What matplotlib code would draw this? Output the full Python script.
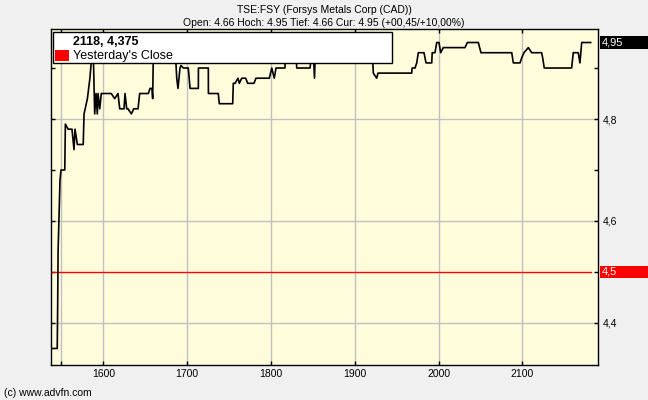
import matplotlib.pyplot as plt
import matplotlib.patches as patches
import matplotlib.transforms as transforms
import numpy as np

TITLE = 'TSE:FSY (Forsys Metals Corp (CAD))'
SUBTITLE = 'Open: 4.66 Hoch: 4.95 Tief: 4.66 Cur: 4.95 (+00,45/+10,00%)'
CURSOR_TEXT = '2118, 4,375'
LEGEND_LABEL = "Yesterday's Close"
COPYRIGHT = '(c) www.advfn.com'

PREV_CLOSE = 4.5
LAST_PRICE = 4.95

# temps / cours
times = [1537, 1545, 1545.5, 1546, 1547.5, 1548.3, 1549.5, 1554, 1554.7, 1558,
         1562.6, 1565, 1566.2, 1569, 1576, 1577, 1581, 1584, 1586, 1588,
         1589.7, 1591.3, 1592.8, 1593.7, 1595.7, 1597.6, 1609.5, 1613.6, 1617.5, 1619.6,
         1624.7, 1625.9, 1627.9, 1629.5, 1633.4, 1636.3, 1641.4, 1643.4, 1653.7, 1655.7,
         1658, 1658.9, 1659.7, 1686, 1687.6, 1689.1, 1691.5, 1692.7, 1695.5, 1701.4,
         1703.5, 1713.4, 1713.5, 1725.3, 1725.4, 1737.2, 1738.4, 1754.4, 1755.1, 1757.2,
         1760.7, 1762.3, 1765.2, 1769.9, 1772.3, 1779.8, 1782.2, 1798.1, 1801, 1804,
         1806.1, 1816.8, 1817, 1830, 1830.8, 1846.7, 1848.7, 1850.6, 1852, 1853,
         1921, 1922.2, 1926.2, 1927.8, 1968, 1968.5, 1972, 1974, 1975.9, 1982.7,
         1985.1, 1991.9, 1992.5, 1995.8, 1997.9, 2000.6, 2002.6, 2005.7, 2031.6, 2034.4,
         2047.5, 2050.7, 2087.4, 2089.3, 2097.3, 2099.3, 2102, 2107.2, 2111.2, 2123.1,
         2124.3, 2126.2, 2158.9, 2160.8, 2166.8, 2168.8, 2170.9, 2181.6]
prices = [4.35, 4.35, 4.43, 4.54, 4.63, 4.68, 4.70, 4.70, 4.79, 4.78,
          4.78, 4.74, 4.78, 4.75, 4.75, 4.81, 4.84, 4.88, 4.92, 4.93,
          4.81, 4.85, 4.81, 4.85, 4.82, 4.85, 4.85, 4.84, 4.85, 4.82,
          4.82, 4.85, 4.82, 4.82, 4.81, 4.82, 4.82, 4.85, 4.85, 4.86,
          4.86, 4.84, 4.93, 4.93, 4.88, 4.86, 4.90, 4.905, 4.90, 4.90,
          4.86, 4.86, 4.90, 4.90, 4.85, 4.85, 4.83, 4.83, 4.87, 4.87,
          4.88, 4.87, 4.88, 4.88, 4.87, 4.87, 4.88, 4.88, 4.90, 4.88,
          4.90, 4.90, 4.93, 4.93, 4.90, 4.90, 4.93, 4.93, 4.88, 4.93,
          4.93, 4.89, 4.88, 4.89, 4.89, 4.90, 4.90, 4.91, 4.93, 4.93,
          4.91, 4.91, 4.93, 4.93, 4.95, 4.95, 4.93, 4.94, 4.94, 4.95,
          4.95, 4.93, 4.93, 4.91, 4.91, 4.92, 4.93, 4.94, 4.93, 4.93,
          4.92, 4.90, 4.90, 4.93, 4.93, 4.91, 4.95, 4.95]

x_ticks = [1600, 1700, 1800, 1900, 2000, 2100]
x_minor = [1550]
y_ticks = [4.4, 4.6, 4.8]
y_minor = [4.5, 4.7, 4.9]

FONT = 'Liberation Sans'
BG_FIG = '#f0f0f0'
BG_AX = '#fffcdc'
GRID = '#c0c0c0'


def fmt_comma(v):
    return ('%g' % v).replace('.', ',')


def price_box(fig, ax, value, facecolor):
    # boite a droite de l'axe, jusqu'au bord de la figure
    trans = transforms.blended_transform_factory(fig.transFigure, ax.transData)
    h = 0.025
    rect = patches.Rectangle((600/648, value - h/2), 1 - 600/648, h, transform=trans,
                             facecolor=facecolor, edgecolor='none', clip_on=False, zorder=5)
    fig.patches.append(rect)
    fig.text(602/648, 0, fmt_comma(value), transform=trans, color='white',
             fontsize=8, family=FONT, va='center', ha='left', zorder=6)
    # recaler le y du texte sur la valeur
    fig.texts[-1].set_y(value)


def plot():
    plt.rcParams['font.family'] = FONT
    fig = plt.figure(figsize=(6.48, 4.00), dpi=100, facecolor=BG_FIG)
    ax = fig.add_axes([50.7/648, 35/400, 547.6/648, 336/400], facecolor=BG_AX)

    ax.set_xlim(1537.2, 2190.7)
    ax.set_ylim(4.3176, 4.9765)

    ax.set_xticks(x_ticks)
    ax.set_xticks(x_minor, minor=True)
    ax.set_yticks(y_ticks)
    ax.set_yticks(y_minor, minor=True)
    ax.set_xticklabels([str(t) for t in x_ticks])
    ax.set_yticklabels([fmt_comma(t) for t in y_ticks])

    for t in x_ticks + x_minor:
        ax.axvline(t, color=GRID, lw=1, zorder=1)
    for t in y_ticks:
        ax.axhline(t, color=GRID, lw=1, zorder=1)

    ax.tick_params(axis='both', which='both', direction='in', length=3, width=1,
                   colors='black', labelsize=7.5)
    ax.tick_params(axis='x', which='both', top=True, bottom=True, pad=3)
    ax.tick_params(axis='y', which='both', left=True, right=True,
                   labelleft=False, labelright=True, pad=3)
    for s in ax.spines.values():
        s.set_color('black')
        s.set_linewidth(1)

    ax.plot([times[0], times[-1]], [PREV_CLOSE, PREV_CLOSE], color='red', lw=1, zorder=2)
    ax.plot(times, prices, color='black', lw=1.2, zorder=3)

    # cadre "legende" blanc
    leg = patches.Rectangle((0.004, 0.899), 0.619, 0.092, transform=ax.transAxes,
                            facecolor='white', edgecolor='black', lw=1, zorder=4)
    ax.add_patch(leg)
    ax.add_patch(patches.Rectangle((0.008, 0.905), 0.026, 0.033, transform=ax.transAxes,
                                   facecolor='red', edgecolor='none', zorder=5))
    ax.text(0.040, 0.962, CURSOR_TEXT, transform=ax.transAxes, fontsize=9,
            fontweight='bold', va='center', ha='left', zorder=6)
    ax.text(0.040, 0.919, LEGEND_LABEL, transform=ax.transAxes, fontsize=9,
            va='center', ha='left', zorder=6)

    price_box(fig, ax, LAST_PRICE, 'black')
    price_box(fig, ax, PREV_CLOSE, 'red')

    fig.text(0.5, 1 - 10/400, TITLE, ha='center', va='center', fontsize=7.5)
    fig.text(0.5, 1 - 23/400, SUBTITLE, ha='center', va='center', fontsize=7.5)
    fig.text(4/648, 1 - 392.7/400, COPYRIGHT, ha='left', va='center', fontsize=7.5)

    fig.savefig('out.png', dpi=100, facecolor=BG_FIG)


def main():
    plot()

main()
